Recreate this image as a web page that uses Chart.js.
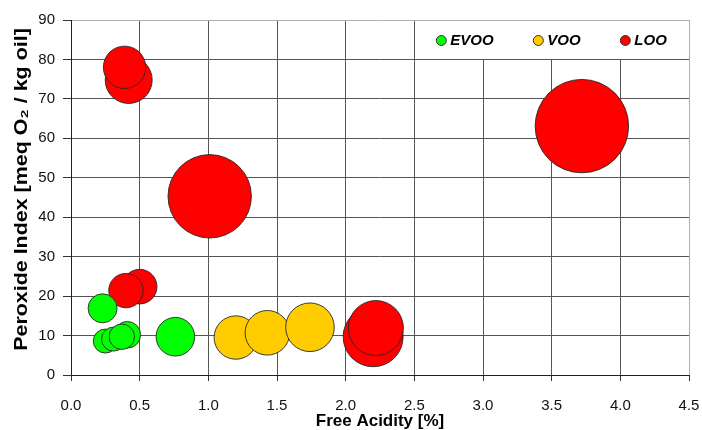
<!DOCTYPE html>
<html>
<head>
<meta charset="utf-8">
<script src="https://cdn.jsdelivr.net/npm/chart.js@4/dist/chart.umd.min.js"></script>
<style>
  html, body { margin: 0; padding: 0; background: #fff; }
  #wrap { width: 702px; height: 430px; position: relative; }
</style>
</head>
<body>
<div id="wrap"><canvas id="c" width="702" height="430"></canvas></div>
<script>
// ---- data ----
const seriesNames = ["EVOO", "VOO", "LOO"];
const seriesColors = ["#00FF00", "#FFCC00", "#FF0000"];

const evooAcidity  = [0.23, 0.25, 0.31, 0.41, 0.37, 0.76];
const evooPeroxide = [16.9, 8.6, 9.1, 10.2, 9.7, 9.7];
const evooSize     = [14.5, 12, 12, 13.3, 12.7, 19.3];

const vooAcidity  = [1.20, 1.43, 1.74];
const vooPeroxide = [9.5, 10.7, 12.1];
const vooSize     = [21.7, 22.3, 24.3];

const looAcidity  = [0.42, 0.39, 0.50, 0.40, 1.01, 3.72, 2.20, 2.22];
const looPeroxide = [74.8, 78.0, 22.4, 21.4, 45.3, 63.1, 9.7, 11.9];
const looSize     = [23.5, 21.2, 17.3, 17.2, 41.7, 46.7, 30, 27.5];

const xTicks = [0.0, 0.5, 1.0, 1.5, 2.0, 2.5, 3.0, 3.5, 4.0, 4.5];
const yTicks = [0, 10, 20, 30, 40, 50, 60, 70, 80, 90];

const xTitle = "Free Acidity [%]";
const yTitle = "Peroxide Index [meq O\u2082 / kg oil]";

function toPoints(xs, ys, rs) {
  return xs.map((x, i) => ({ x: x, y: ys[i], r: rs[i] }));
}
const seriesData = [
  toPoints(evooAcidity, evooPeroxide, evooSize),
  toPoints(vooAcidity, vooPeroxide, vooSize),
  toPoints(looAcidity, looPeroxide, looSize)
];

const FONT = "'Liberation Sans', Arial, sans-serif";

// custom legend drawn inside the plot area (top-right cell block) + stretched y title
const insideLegend = {
  id: 'insideLegend',
  afterDraw(chart) {
    const ctx = chart.ctx;
    const xs = chart.scales.x, ys = chart.scales.y;
    const area = chart.chartArea;
    const x1 = Math.round(xs.getPixelForValue(2.5));
    const y2 = Math.round(ys.getPixelForValue(80));
    const x2 = Math.round(area.right);
    const y1 = Math.round(area.top);
    ctx.save();
    ctx.fillStyle = '#fff';
    ctx.fillRect(x1 + 1, y1 + 1, x2 - x1 - 1, y2 - y1 - 1);
    const cy = (y1 + y2) / 2 + 1;
    const base = xs.getPixelForValue(2.5);
    const offsets = [27, 124, 211];
    ctx.font = "italic bold 15px " + FONT;
    ctx.textBaseline = 'middle';
    ctx.textAlign = 'left';
    seriesNames.forEach((name, i) => {
      const cx = base + offsets[i];
      ctx.beginPath();
      ctx.arc(cx, cy, 5, 0, Math.PI * 2);
      ctx.fillStyle = seriesColors[i];
      ctx.fill();
      ctx.lineWidth = 1;
      ctx.strokeStyle = '#333';
      ctx.stroke();
      ctx.fillStyle = '#000';
      ctx.fillText(name, cx + 9, cy);
    });
    ctx.restore();

    // y-axis title (stretched along its length, as in the reference)
    ctx.save();
    ctx.translate(22, (area.top + area.bottom) / 2 - 8);
    ctx.rotate(-Math.PI / 2);
    ctx.scale(1.19, 1);
    ctx.font = "bold 18px " + FONT;
    ctx.fillStyle = '#000';
    ctx.textAlign = 'center';
    ctx.textBaseline = 'middle';
    ctx.fillText(yTitle, 0, 0);
    ctx.restore();
  }
};

const gridColor = (ctx, maxVal) => {
  const v = ctx.tick ? ctx.tick.value : null;
  if (v !== null && Math.abs(v - maxVal) < 1e-9) return '#b0b0b0';
  return '#555';
};

new Chart(document.getElementById('c'), {
  type: 'bubble',
  data: {
    datasets: seriesNames.map((name, i) => ({
      label: name,
      data: seriesData[i],
      backgroundColor: seriesColors[i],
      borderColor: 'rgba(40,40,40,0.9)',
      borderWidth: 1,
      hoverRadius: 0
    }))
  },
  options: {
    responsive: false,
    animation: false,
    devicePixelRatio: 1,
    layout: { autoPadding: false, padding: { left: 0, top: 20, right: 13, bottom: 0 } },
    plugins: {
      legend: { display: false },
      tooltip: { enabled: false }
    },
    scales: {
      x: {
        type: 'linear',
        min: 0, max: 4.5,
        afterBuildTicks: (s) => { s.ticks = xTicks.map(v => ({ value: v })); },
        afterFit: (s) => { s.height = 55; s.paddingLeft = 0; s.paddingRight = 0; },
        ticks: {
          font: { family: FONT, size: 15 },
          color: '#111',
          padding: 16,
          maxRotation: 0,
          callback: (v) => Number(v).toFixed(1)
        },
        grid: {
          color: (c) => gridColor(c, 4.5),
          lineWidth: 1,
          tickLength: 6,
          tickColor: '#333'
        },
        border: { color: '#222', width: 1 },
        title: {
          display: true,
          text: xTitle,
          font: { family: FONT, size: 17, weight: 'bold' },
          color: '#000',
          padding: { top: 0, bottom: -2 }
        }
      },
      y: {
        type: 'linear',
        min: 0, max: 90,
        afterBuildTicks: (s) => { s.ticks = yTicks.map(v => ({ value: v })); },
        afterFit: (s) => { s.width = 71; s.paddingTop = 0; s.paddingBottom = 0; },
        ticks: {
          font: { family: FONT, size: 15 },
          color: '#111',
          padding: 8
        },
        grid: {
          color: (c) => gridColor(c, 90),
          lineWidth: 1,
          tickLength: 8,
          tickColor: '#333'
        },
        border: { color: '#222', width: 1 },
        title: { display: false }
      }
    }
  },
  plugins: [insideLegend]
});
</script>
</body>
</html>
